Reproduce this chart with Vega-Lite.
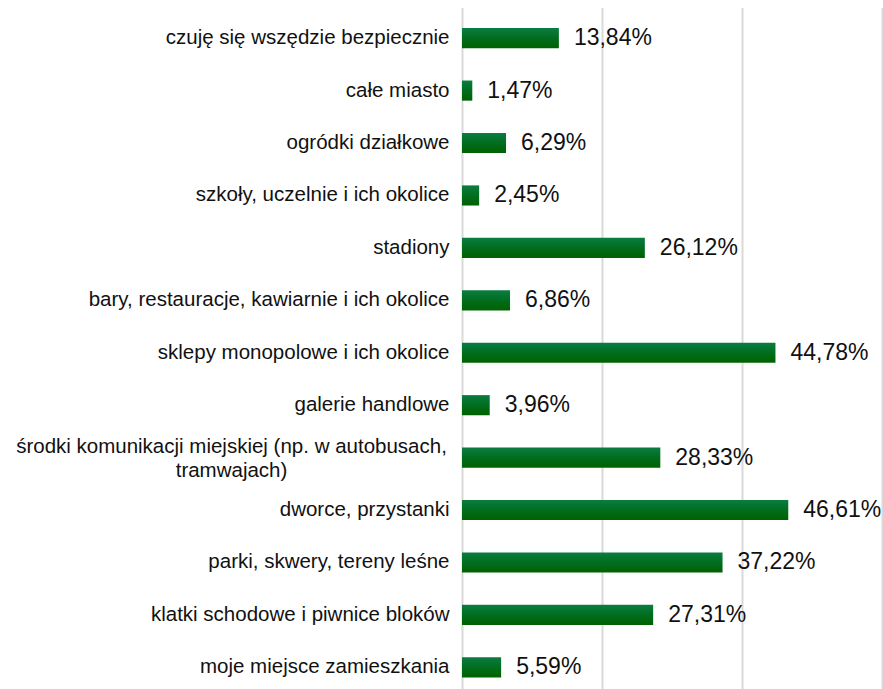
{
  "$schema": "https://vega.github.io/schema/vega-lite/v6.json",
  "width": 420,
  "height": 677,
  "autosize": "none",
  "padding": {"left": 462, "top": 12, "right": 1, "bottom": 0},
  "background": "white",
  "config": {
    "view": {"stroke": null},
    "font": "Liberation Sans",
    "locale": {"number": {"decimal": ",", "thousands": " ", "grouping": [3], "currency": ["", " zł"]}}
  },
  "data": {"values": [
    {"cat": "czuję się wszędzie bezpiecznie", "v": 0.1384},
    {"cat": "całe miasto", "v": 0.0147},
    {"cat": "ogródki działkowe", "v": 0.0629},
    {"cat": "szkoły, uczelnie i ich okolice", "v": 0.0245},
    {"cat": "stadiony", "v": 0.2612},
    {"cat": "bary, restauracje, kawiarnie i ich okolice", "v": 0.0686},
    {"cat": "sklepy monopolowe i ich okolice", "v": 0.4478},
    {"cat": "galerie handlowe", "v": 0.0396},
    {"cat": "środki komunikacji miejskiej (np. w autobusach, tramwajach)", "v": 0.2833},
    {"cat": "dworce, przystanki", "v": 0.4661},
    {"cat": "parki, skwery, tereny leśne", "v": 0.3722},
    {"cat": "klatki schodowe i piwnice bloków", "v": 0.2731},
    {"cat": "moje miejsce zamieszkania", "v": 0.0559}
  ]},
  "encoding": {
    "y": {
      "field": "cat", "type": "nominal", "sort": null,
      "scale": {"paddingInner": 0.616, "paddingOuter": 0.307, "range": [0, 681.5]},
      "axis": {
        "title": null, "domain": false, "ticks": false, "grid": false,
        "labelFontSize": 20.5, "labelColor": "#111111", "labelLimit": 0,
        "labelLineHeight": 24,
        "labelExpr": "datum.value == 'środki komunikacji miejskiej (np. w autobusach, tramwajach)' ? ['środki komunikacji miejskiej (np. w autobusach,', 'tramwajach)'] : datum.value",
        "labelAlign": {"condition": {"test": "datum.value == 'środki komunikacji miejskiej (np. w autobusach, tramwajach)'", "value": "center"}, "value": "right"},
        "labelPadding": {"condition": {"test": "datum.value == 'środki komunikacji miejskiej (np. w autobusach, tramwajach)'", "value": 231}, "value": 13},
        "labelOffset": {"condition": {"test": "datum.value == 'środki komunikacji miejskiej (np. w autobusach, tramwajach)'", "value": -11}, "value": 0}
      }
    },
    "x": {
      "field": "v", "type": "quantitative",
      "scale": {"domain": [0, 0.6], "nice": false},
      "axis": {
        "title": null, "labels": false, "ticks": false, "domain": false,
        "values": [0, 0.2, 0.4, 0.6], "grid": true, "gridColor": "#d9d9d9", "gridWidth": 2
      }
    }
  },
  "layer": [
    {
      "mark": {
        "type": "bar",
        "color": {
          "gradient": "linear", "x1": 0, "y1": 0, "x2": 0, "y2": 1,
          "stops": [
            {"offset": 0, "color": "#0a7d42"},
            {"offset": 0.5, "color": "#016d1e"},
            {"offset": 1, "color": "#006200"}
          ]
        }
      }
    },
    {
      "mark": {"type": "text", "align": "left", "baseline": "middle", "dx": 15, "fontSize": 23, "color": "#111111"},
      "encoding": {"text": {"field": "v", "type": "quantitative", "format": ".2%"}}
    }
  ]
}
